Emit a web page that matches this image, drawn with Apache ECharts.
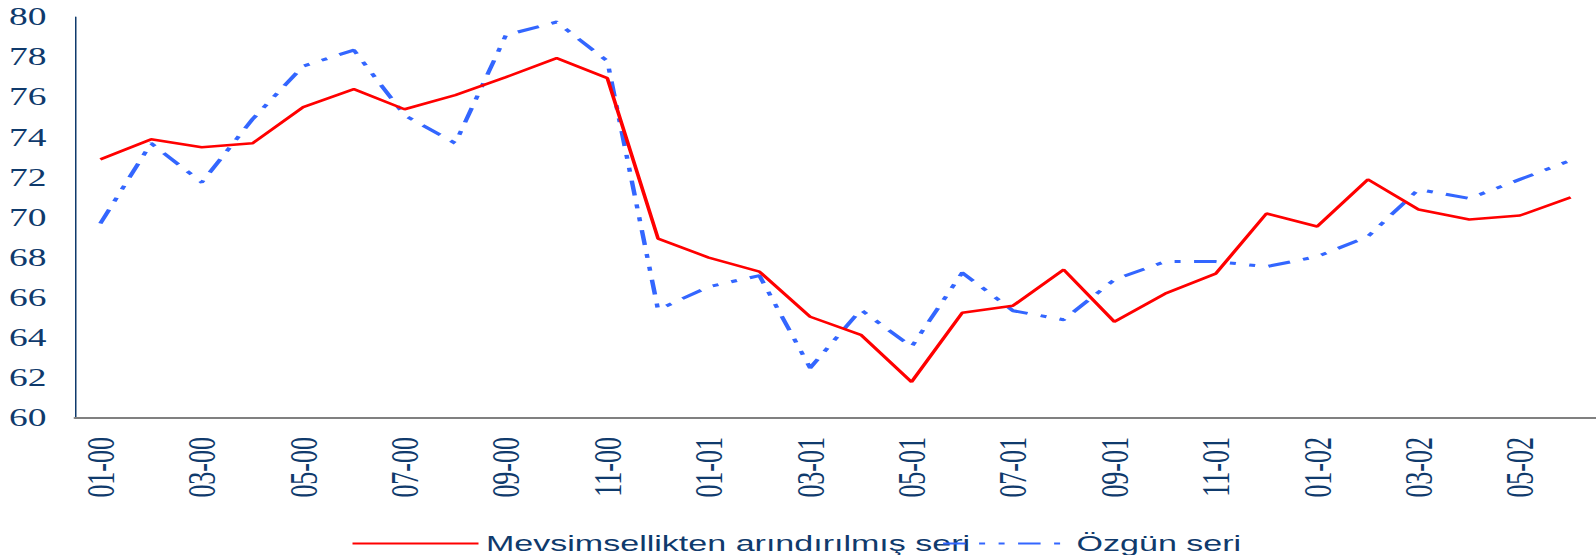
<!DOCTYPE html>
<html>
<head>
<meta charset="utf-8">
<script src="https://cdn.jsdelivr.net/npm/echarts@6/dist/echarts.min.js"></script>
<style>
  html, body { margin: 0; padding: 0; background: #fff; overflow: hidden; }
  /* the source picture is stretched sideways, so the chart is drawn narrow and widened */
  #main { width: 1064px; height: 555px; transform: scaleX(1.5); transform-origin: 0 0; }
</style>
</head>
<body>
<div id="main"></div>
<script>
const months = [
  "01-00", "02-00", "03-00", "04-00", "05-00", "06-00", "07-00", "08-00", "09-00", "10-00", "11-00", "12-00",
  "01-01", "02-01", "03-01", "04-01", "05-01", "06-01", "07-01", "08-01", "09-01", "10-01", "11-01", "12-01",
  "01-02", "02-02", "03-02", "04-02", "05-02", "06-02"
];
const seasonal = [
  72.9, 73.9, 73.5, 73.7, 75.5, 76.4, 75.4, 76.1, 77.0, 77.95, 76.95, 68.95,
  68.0, 67.3, 65.05, 64.15, 61.8, 65.25, 65.6, 67.4, 64.8, 66.2, 67.2, 70.2,
  69.55, 71.9, 70.4, 69.9, 70.1, 71.0
];
const original = [
  69.7, 73.7, 71.75, 74.9, 77.55, 78.35, 75.1, 73.7, 79.1, 79.75, 77.8, 65.4,
  66.55, 67.1, 62.5, 65.4, 63.55, 67.25, 65.35, 64.9, 66.9, 67.8, 67.8, 67.55,
  68.05, 69.05, 71.4, 70.95, 71.9, 72.85
];
const seasonalName = "Mevsimsellikten arındırılmış seri";
const originalName = "Özgün seri";

const navy = "#0f3a6c";

const chart = echarts.init(document.getElementById("main"), null, { renderer: "svg" });
chart.setOption({
  animation: false,
  grid: { left: 50, right: 0, top: 17, bottom: 137 },
  legend: {
    data: [seasonalName, originalName],
    left: 229,
    top: 527,
    itemWidth: 84,
    itemHeight: 14,
    itemGap: -19,
    itemStyle: { opacity: 0 },
    textStyle: { fontFamily: "Liberation Sans", fontSize: 22.7, color: navy }
  },
  xAxis: {
    type: "category",
    data: months,
    boundaryGap: true,
    axisLine: { lineStyle: { color: "#808080", width: 2 } },
    axisTick: { show: false },
    axisLabel: {
      interval: 1,
      rotate: 90,
      margin: 19,
      fontFamily: "Liberation Serif",
      fontSize: 26,
      color: navy
    }
  },
  yAxis: {
    type: "value",
    min: 60,
    max: 80,
    interval: 2,
    axisLine: { show: true, lineStyle: { color: navy, width: 1 } },
    axisTick: { show: false },
    splitLine: { show: false },
    axisLabel: {
      margin: 19,
      fontFamily: "Liberation Serif",
      fontSize: 25,
      color: navy
    }
  },
  series: [
    {
      name: originalName,
      type: "line",
      data: original,
      symbol: "none",
      lineStyle: { color: "#3366ff", width: 3, type: [15, 9, 4, 9, 4, 9] },
      itemStyle: { color: "#3366ff" }
    },
    {
      name: seasonalName,
      type: "line",
      data: seasonal,
      symbol: "none",
      lineStyle: { color: "#ff0000", width: 2.5 },
      itemStyle: { color: "#ff0000" }
    }
  ]
});
</script>
</body>
</html>
